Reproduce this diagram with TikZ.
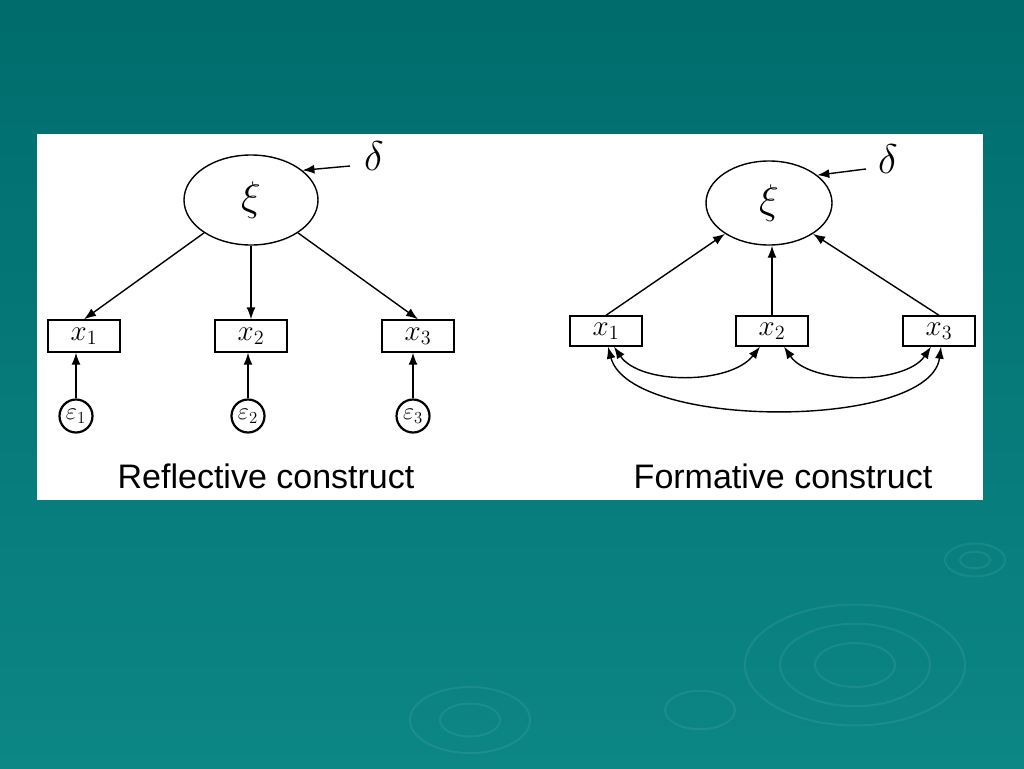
\documentclass[tikz,border=0pt]{standalone}
\usepackage{graphicx}
\usepackage{fontspec}
\setsansfont{Liberation Sans}
\usetikzlibrary{arrows.meta,shapes.geometric}
\newcommand{\scm}[2]{\scalebox{#1}{$#2$}}
\begin{document}
\begin{tikzpicture}[x=1pt,y=-1pt,
  ar/.style={-{Latex[length=12pt,width=9pt]},line width=1.4pt},
  dar/.style={{Latex[length=12pt,width=9pt]}-{Latex[length=12pt,width=9pt]},line width=1.4pt},
  var/.style={draw,line width=1.4pt,minimum width=72pt,minimum height=32pt,inner sep=0pt,font=\fontsize{20}{20}\selectfont},
  lat/.style={draw,ellipse,line width=1.4pt,font=\fontsize{20}{20}\selectfont},
  err/.style={draw,circle,line width=2.2pt,minimum size=33pt,inner sep=0pt,font=\fontsize{17}{17}\selectfont},
  captxt/.style={font=\sffamily\fontsize{34}{34}\selectfont}]
\useasboundingbox (0,0) rectangle (1024,768);
\shade[top color=teal!85!black, bottom color=teal!95!white] (0,0) rectangle (1024,768);
\foreach \cx/\cy/\r in {855/665/40,855/665/75,855/665/110,470/720/30,470/720/60,700/710/35,975/560/15,975/560/30}
  \draw[white,opacity=0.07,line width=2pt] (\cx,\cy) ellipse ({\r} and {\r*0.55});
\fill[white] (37,134) rectangle (983,500);
% left
\node[lat,minimum width=134pt,minimum height=90pt] (L) at (251,200) {\scm{2}{\xi}};
\node[font=\fontsize{20}{20}\selectfont] (dL) at (374,156) {\scm{2}{\delta}};
\coordinate (dLs) at (350,166);
\draw[ar] (dLs) -- (L.30);
\node[var] (a1) at (84,336) {\scm{1.4}{x_1}};
\node[var] (a2) at (251,336) {\scm{1.4}{x_2}};
\node[var] (a3) at (418,336) {\scm{1.4}{x_3}};
\draw[ar] (L.215) -- (a1.north);
\draw[ar] (L.south) -- (a2.north);
\draw[ar] (L.325) -- (a3.north);
\node[err] (e1) at (76,416) {\scm{1.4}{\varepsilon_1}};
\node[err] (e2) at (248,416) {\scm{1.4}{\varepsilon_2}};
\node[err] (e3) at (413,416) {\scm{1.4}{\varepsilon_3}};
\draw[ar] (e1) -- (e1|-a1.south);
\draw[ar] (e2) -- (e2|-a2.south);
\draw[ar] (e3) -- (e3|-a3.south);
\node[captxt] (cL) at (266,476) {Reflective construct};
% right
\node[lat,minimum width=126pt,minimum height=84pt] (R) at (769,203) {\scm{2}{\xi}};
\node[font=\fontsize{20}{20}\selectfont] (dR) at (888,159) {\scm{2}{\delta}};
\coordinate (dRs) at (866,169);
\draw[ar] (dRs) -- (R.30);
\node[var,minimum height=30pt] (b1) at (606,331) {\scm{1.4}{x_1}};
\node[var,minimum height=30pt] (b2) at (772,331) {\scm{1.4}{x_2}};
\node[var,minimum height=30pt] (b3) at (939,331) {\scm{1.4}{x_3}};
\draw[ar] (b1.north) -- (R.215);
\draw[ar] (b2.north) -- (b2.north|-R.south);
\draw[ar] (b3.north) -- (R.325);
\draw[dar] ([xshift=8pt]b1.south) .. controls (640,385) and (730,385) .. ([xshift=-12pt]b2.south);
\draw[dar] ([xshift=12pt]b2.south) .. controls (810,385) and (905,385) .. ([xshift=-8pt]b3.south);
\draw[dar] ([xshift=2pt]b1.south) .. controls (630,430) and (930,430) .. ([xshift=2pt]b3.south);
\node[captxt] (cR) at (783,476) {Formative construct};
\end{tikzpicture}
\end{document}
